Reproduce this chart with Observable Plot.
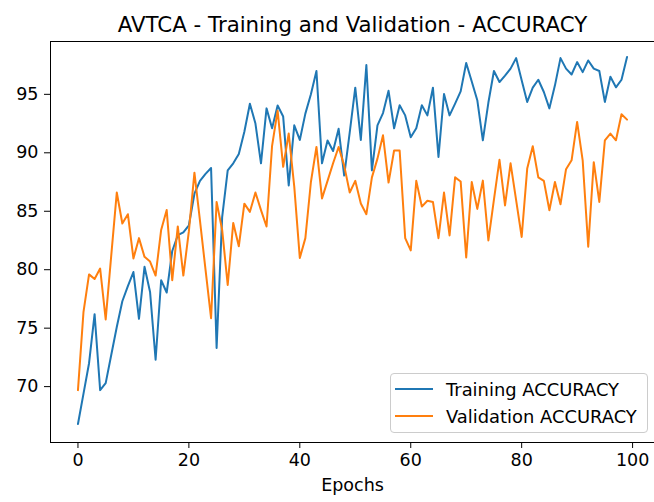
<!DOCTYPE html>
<html>
<head>
<meta charset="utf-8">
<script src="https://cdn.jsdelivr.net/npm/d3@7"></script>
<script src="https://cdn.jsdelivr.net/npm/@observablehq/plot@0.6"></script>
<style>
  html, body { margin: 0; padding: 0; background: white; }
  #wrap { position: relative; width: 654px; height: 502px; font-family: "DejaVu Sans", sans-serif; }
  #legend {
    position: absolute; left: 390px; top: 373px; width: 258px; height: 60px;
    border: 1px solid #cccccc; border-radius: 4px; background: rgba(255,255,255,0.8);
    box-sizing: border-box; font-size: 17.9px; color: #000;
  }
  .item { position: absolute; left: 4px; height: 20px; display: flex; align-items: center; white-space: nowrap; }
  .swatch { width: 38px; height: 2px; margin-right: 13px; }
</style>
</head>
<body>
<div id="wrap"></div>
<script>
const epochs = d3.range(100);
const trainAcc = [
  66.8, 69.4, 72.0, 76.2, 69.7, 70.3, 72.7, 75.1, 77.3, 78.6,
  79.8, 75.8, 80.25, 78.1, 72.3, 79.1, 78.05, 81.6, 82.95, 83.2,
  83.8, 86.5, 87.6, 88.2, 88.7, 73.3, 84.5, 88.5, 89.1, 89.9,
  91.8, 94.2, 92.5, 89.1, 93.8, 92.1, 94.05, 93.1, 87.2, 92.35,
  91.1, 93.35, 95.0, 97.0, 89.1, 91.05, 90.15, 92.05, 88.05, 91.75,
  95.57, 91.1, 97.5, 88.5, 92.35, 93.4, 95.3, 92.1, 94.06, 93.2,
  91.33, 92.1, 94.06, 93.2, 95.57, 89.65, 95.03, 93.2, 94.2, 95.25,
  97.68, 96.1, 94.5, 91.07, 94.3, 97.0, 96.05, 96.6, 97.2, 98.1,
  96.2, 94.35, 95.57, 96.25, 95.2, 93.8, 95.77, 98.1, 97.2, 96.7,
  97.76, 96.9, 97.9, 97.2, 97.0, 94.35, 96.5, 95.6, 96.25, 98.19
];
const valAcc = [
  69.7, 76.4, 79.6, 79.2, 80.1, 75.75, 81.2, 86.6, 83.95, 84.75,
  80.96, 82.7, 81.1, 80.7, 79.5, 83.4, 85.1, 79.1, 83.7, 79.5,
  83.3, 88.3, 84.2, 80.0, 75.85, 85.8, 83.4, 78.7, 84.0, 82.0,
  85.65, 84.95, 86.6, 85.1, 83.7, 90.6, 93.6, 88.8, 91.65, 87.1,
  81.0, 82.7, 87.5, 90.5, 86.1, 87.6, 89.1, 90.5, 88.9, 86.6,
  87.6, 85.66, 84.75, 87.9, 89.5, 91.5, 87.45, 90.2, 90.2, 82.7,
  81.65, 87.6, 85.4, 85.9, 85.8, 82.7, 86.6, 82.93, 87.9, 87.55,
  81.05, 87.5, 85.2, 87.62, 82.5, 86.0, 89.4, 85.5, 89.1, 85.95,
  82.8, 88.65, 90.56, 87.9, 87.6, 85.09, 87.5, 85.6, 88.6, 89.36,
  92.64, 89.36, 81.96, 89.2, 85.8, 91.07, 91.64, 91.07, 93.3, 92.84
];
const seriesNames = ["Training ACCURACY", "Validation ACCURACY"];
const seriesColors = ["#1f77b4", "#ff7f0e"];
const xTicks = [0, 20, 40, 60, 80, 100];
const yTicks = [70, 75, 80, 85, 90, 95];
const titleText = "AVTCA - Training and Validation - ACCURACY";
const xLabel = "Epochs";

const rows = [
  ...epochs.map((e, i) => ({epoch: e, value: trainAcc[i], series: seriesNames[0]})),
  ...epochs.map((e, i) => ({epoch: e, value: valAcc[i], series: seriesNames[1]}))
];

const chart = Plot.plot({
  width: 654,
  height: 502,
  marginTop: 41,
  marginBottom: 60,
  marginLeft: 50,
  marginRight: 0,
  style: {fontFamily: "DejaVu Sans, sans-serif", fontSize: "17.5px", background: "white", color: "black"},
  x: {domain: [-4.95, 103.95], label: null},
  y: {domain: [65.22, 99.52], label: null},
  color: {domain: seriesNames, range: seriesColors},
  marks: [
    Plot.line(rows, {x: "epoch", y: "value", stroke: "series", z: "series", strokeWidth: 2}),
    Plot.frame({stroke: "black", strokeWidth: 1}),
    Plot.axisX({ticks: xTicks, tickSize: 6, tickPadding: 5, fontSize: 17.5, label: null, stroke: "black"}),
    Plot.axisY({ticks: yTicks, tickSize: 6, tickPadding: 6, fontSize: 17.5, label: null, stroke: "black"}),
    Plot.text([titleText], {text: d => d, frameAnchor: "top", dy: -25, fontSize: 21.3, fill: "black"}),
    Plot.text([xLabel], {text: d => d, frameAnchor: "bottom", dy: 48, fontSize: 17.5, fill: "black"})
  ]
});
const wrap = document.getElementById("wrap");
wrap.appendChild(chart);

const legend = document.createElement("div");
legend.id = "legend";
seriesNames.forEach((name, i) => {
  const item = document.createElement("div");
  item.className = "item";
  item.style.top = (5 + i * 27) + "px";
  const sw = document.createElement("span");
  sw.className = "swatch";
  sw.style.background = seriesColors[i];
  const lab = document.createElement("span");
  lab.textContent = name;
  item.appendChild(sw);
  item.appendChild(lab);
  legend.appendChild(item);
});
wrap.appendChild(legend);
</script>
</body>
</html>
